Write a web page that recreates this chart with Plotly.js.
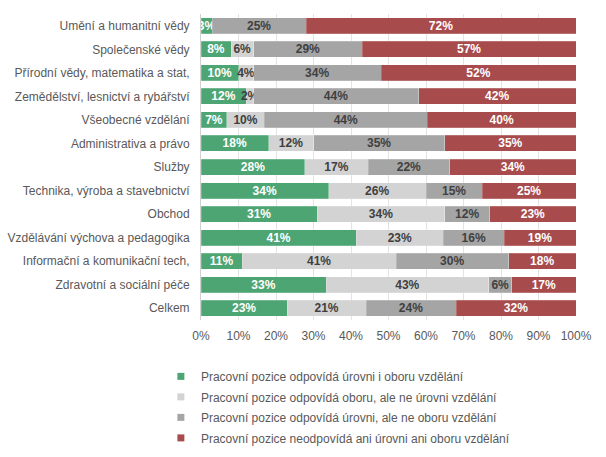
<!DOCTYPE html>
<html><head><meta charset="utf-8">
<script src="https://cdn.plot.ly/plotly-3.0.1.min.js"></script>
<style>html,body{margin:0;padding:0;background:#fff}#chart{width:606px;height:457px}</style>
</head><body><div id="chart"></div>
<script>
const categories = [
  "Umění a humanitní vědy",
  "Společenské vědy",
  "Přírodní vědy, matematika a stat,",
  "Zemědělství, lesnictví a rybářství",
  "Všeobecné vzdělání",
  "Administrativa a právo",
  "Služby",
  "Technika, výroba a stavebnictví",
  "Obchod",
  "Vzdělávání výchova a pedagogika",
  "Informační a komunikační tech,",
  "Zdravotní a sociální péče",
  "Celkem"
];
const levelAndField = [3, 8, 10, 12, 7, 18, 28, 34, 31, 41, 11, 33, 23];
const fieldNotLevel = [0, 6, 4, 2, 10, 12, 17, 26, 34, 23, 41, 43, 21];
const levelNotField = [25, 29, 34, 44, 44, 35, 22, 15, 12, 16, 30, 6, 24];
const neither = [72, 57, 52, 42, 40, 35, 34, 25, 23, 19, 18, 17, 32];
const seriesNames = [
  "Pracovní pozice odpovídá úrovni i oboru vzdělání",
  "Pracovní pozice odpovídá oboru, ale ne úrovni vzdělání",
  "Pracovní pozice odpovídá úrovni, ale ne oboru vzdělání",
  "Pracovní pozice neodpovídá ani úrovni ani oboru vzdělání"
];
const xTicks = [0,10,20,30,40,50,60,70,80,90,100];

const seriesValues = [levelAndField, fieldNotLevel, levelNotField, neither];
const colors = ["#4ea574", "#d3d3d3", "#a5a5a5", "#a84b4c"];
const textColors = ["#ffffff", "#404040", "#404040", "#ffffff"];

const barTraces = seriesValues.map((vals, i) => ({
  type: "bar",
  orientation: "h",
  name: seriesNames[i],
  y: categories,
  x: vals,
  text: vals.map(v => v > 0 ? v + "%" : ""),
  textposition: "inside",
  insidetextanchor: "middle",
  textangle: 0,
  constraintext: "none",
  cliponaxis: false,
  textfont: {family: "Liberation Sans, Arial, sans-serif", size: 12, color: textColors[i], weight: "bold"},
  marker: {color: colors[i], line: {color: "rgba(255,255,255,0.4)", width: 0.5}},
  showlegend: false,
  hoverinfo: "skip"
}));

// legend-only entries with small square swatches
const legendTraces = seriesNames.map((n, i) => ({
  type: "scatter",
  mode: "markers",
  name: n,
  legendgroup: "g" + i,
  x: [null], y: [null],
  marker: {symbol: "square", size: 7, color: colors[i]},
  hoverinfo: "skip",
  showlegend: true
}));

const layout = {
  width: 606, height: 457,
  margin: {l: 201, r: 30, t: 14, b: 137},
  paper_bgcolor: "#ffffff",
  plot_bgcolor: "#ffffff",
  barmode: "stack",
  barnorm: "percent",
  bargap: 0.32,
  uniformtext: {mode: "show", minsize: 12},
  font: {family: "Liberation Sans, Arial, sans-serif", size: 12, color: "#595959"},
  xaxis: {
    range: [0, 100.001],
    tickvals: xTicks,
    ticktext: xTicks.map(t => t + "%"),
    showgrid: true, gridcolor: "#e3e3e3", gridwidth: 1,
    zeroline: false, showline: false, ticks: "",
    ticklabelstandoff: 7,
    tickfont: {size: 12, color: "#595959"},
    fixedrange: true
  },
  yaxis: {
    type: "category",
    categoryorder: "array",
    categoryarray: categories,
    autorange: "reversed",
    showgrid: false, zeroline: false,
    showline: true, linecolor: "#d0d0d0", linewidth: 1,
    ticks: "", ticklabelstandoff: 8,
    tickfont: {size: 12, color: "#595959"},
    fixedrange: true
  },
  showlegend: true,
  legend: {
    orientation: "v",
    xref: "paper", x: -0.107, xanchor: "left",
    yref: "container", y: 0.009, yanchor: "bottom",
    traceorder: "grouped",
    font: {size: 12, color: "#595959"},
    itemwidth: 30,
    tracegroupgap: 1.5
  }
};

Plotly.newPlot("chart", barTraces.concat(legendTraces), layout, {displayModeBar: false, staticPlot: true});
</script>
</body></html>
